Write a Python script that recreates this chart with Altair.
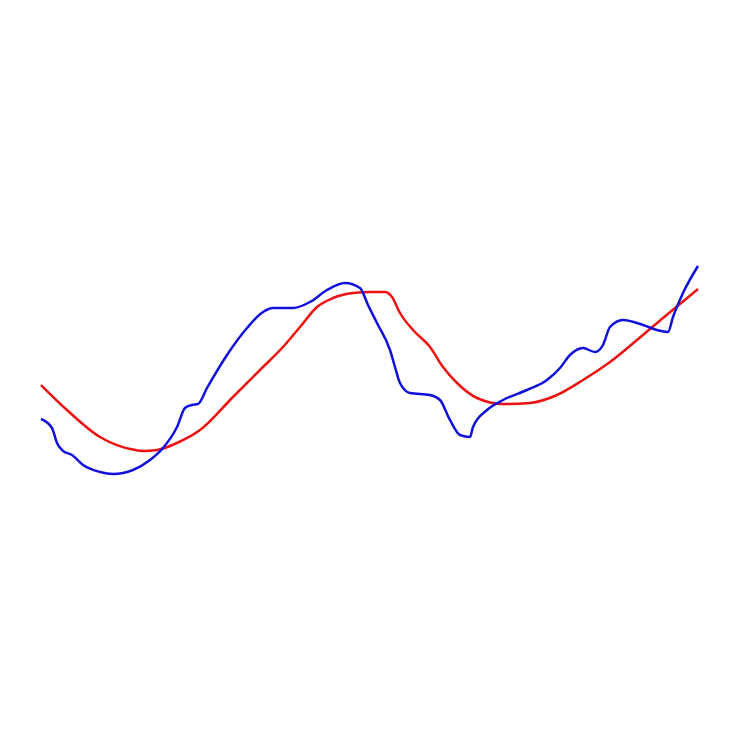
import altair as alt
import pandas as pd

red_x = [0, 26, 59, 89, 102, 116, 138, 159, 192, 219, 242, 259, 276, 292, 312, 329, 344, 351, 359, 372, 389, 402, 416, 436, 462, 489, 516, 542, 569, 596, 622, 657]
red_y = [95, 70, 43, 31, 29, 30, 38, 50, 83, 110, 133, 153, 173, 182, 187, 188, 188, 183, 167, 150, 133, 113, 97, 82, 76, 77, 85, 100, 118, 140, 162, 191]

blue_x = [0, 11, 16, 22, 31, 42, 59, 72, 92, 109, 122, 136, 144, 151, 157, 166, 186, 206, 222, 232, 252, 269, 286, 304, 319, 327, 336, 349, 354, 359, 369, 389, 399, 409, 419, 429, 432, 446, 462, 486, 506, 519, 529, 542, 554, 562, 569, 582, 602, 616, 627, 632, 642, 657]
blue_y = [61, 52, 37, 29, 25, 15, 8, 6, 10, 20, 32, 53, 72, 75, 76, 92, 125, 152, 168, 172, 172, 178, 190, 197, 192, 175, 157, 130, 113, 97, 87, 85, 80, 60, 45, 43, 53, 70, 80, 90, 100, 112, 125, 132, 128, 135, 153, 160, 155, 150, 148, 163, 187, 214]

df = pd.concat([
    pd.DataFrame({"x": red_x, "y": red_y, "s": "red"}),
    pd.DataFrame({"x": blue_x, "y": blue_y, "s": "blue"}),
])

chart = alt.Chart(df).mark_line(interpolate="monotone", strokeWidth=2.5).encode(
    x=alt.X("x:Q", scale=alt.Scale(domain=[-33, 691], nice=False, zero=False), axis=None),
    y=alt.Y("y:Q", scale=alt.Scale(domain=[-252, 472], nice=False, zero=False), axis=None),
    color=alt.Color("s:N", scale=alt.Scale(domain=["red", "blue"], range=["#ee1111", "#1111dd"]), legend=None),
    detail="s:N",
).properties(width=724, height=724, padding=0).configure_view(stroke=None)

chart.save("out.html", embed_options={"renderer": "svg", "actions": False})
